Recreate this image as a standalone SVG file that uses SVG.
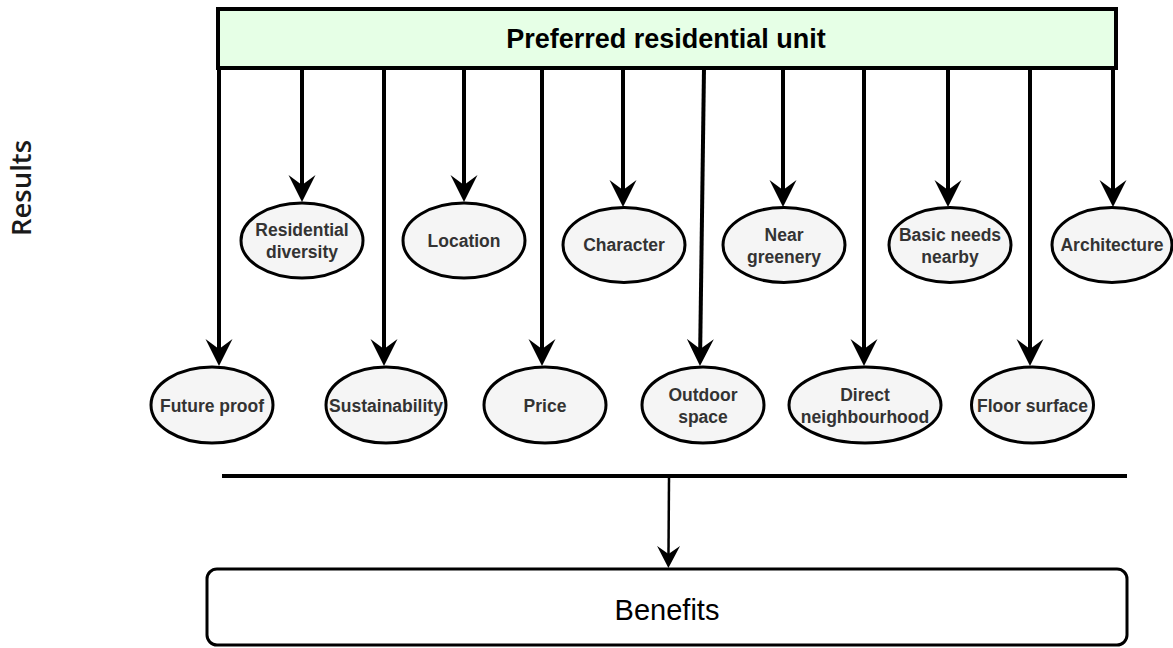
<svg xmlns="http://www.w3.org/2000/svg" width="1173" height="648" viewBox="0 0 1173 648">
  <style>
    .bg { fill: #ffffff; }
    .head { fill: #e6ffe6; stroke: #000; stroke-width: 4; }
    .head-text { font-family: "Liberation Sans", Arial, sans-serif; font-weight: bold; font-size: 27px; fill: #000; text-anchor: middle; }
    .node { fill: #f5f5f5; stroke: #000; stroke-width: 3; }
    .label { font-family: "Liberation Sans", Arial, sans-serif; font-weight: bold; font-size: 17.5px; fill: #333333; text-anchor: middle; }
    .link { fill: none; stroke: #000; stroke-width: 4; }
    .thin { fill: none; stroke: #000; stroke-width: 2.5; }
    .bar { fill: none; stroke: #000; stroke-width: 4; }
    .box { fill: #ffffff; stroke: #000; stroke-width: 3; }
    .box-text { font-family: "Liberation Sans", Arial, sans-serif; font-size: 29px; fill: #000; text-anchor: middle; }
    .side { font-family: "Open Sans", "Noto Sans", sans-serif; font-weight: 600; font-size: 27.5px; fill: #1a1a1a; text-anchor: middle; }
  </style>
  <defs>
    <marker id="arrow" markerUnits="userSpaceOnUse" viewBox="0 -14 28 28" refX="10" refY="0" markerWidth="28" markerHeight="28" orient="auto">
      <path d="M0,-13.5 L27,0 L0,13.5 L10,0 Z" fill="#000"/>
    </marker>
    <marker id="arrow-small" markerUnits="userSpaceOnUse" viewBox="0 -12 24 24" refX="8" refY="0" markerWidth="24" markerHeight="24" orient="auto">
      <path d="M0,-11.5 L22,0 L0,11.5 L8,0 Z" fill="#000"/>
    </marker>
  </defs>

  <rect class="bg" x="0" y="0" width="1173" height="648"/>

  <text class="side" transform="translate(31,188) rotate(-90)">Results</text>

  <g id="preferred-unit">
    <rect class="head" x="218" y="9" width="898" height="59"/>
    <text class="head-text" x="666" y="47.5">Preferred residential unit</text>
  </g>

  <g id="connectors">
    <line class="link" x1="219" y1="68" x2="219" y2="349" marker-end="url(#arrow)"/>
    <line class="link" x1="302" y1="68" x2="302" y2="185" marker-end="url(#arrow)"/>
    <line class="link" x1="384" y1="68" x2="384" y2="349" marker-end="url(#arrow)"/>
    <line class="link" x1="464" y1="68" x2="464" y2="185" marker-end="url(#arrow)"/>
    <line class="link" x1="542" y1="68" x2="542" y2="349" marker-end="url(#arrow)"/>
    <line class="link" x1="623" y1="68" x2="623" y2="190" marker-end="url(#arrow)"/>
    <line class="link" x1="704" y1="68" x2="700.2" y2="349" marker-end="url(#arrow)"/>
    <line class="link" x1="783" y1="68" x2="783" y2="190" marker-end="url(#arrow)"/>
    <line class="link" x1="864" y1="68" x2="864" y2="349" marker-end="url(#arrow)"/>
    <line class="link" x1="948" y1="68" x2="948" y2="190" marker-end="url(#arrow)"/>
    <line class="link" x1="1030" y1="68" x2="1030" y2="349" marker-end="url(#arrow)"/>
    <line class="link" x1="1113" y1="68" x2="1113" y2="190" marker-end="url(#arrow)"/>
    <line class="bar" x1="222" y1="476" x2="1127" y2="476"/>
    <line class="thin" x1="669" y1="478" x2="668.5" y2="554" marker-end="url(#arrow-small)"/>
  </g>

  <g id="residential-diversity">
    <ellipse class="node" cx="302" cy="240.5" rx="61" ry="37.5"/>
    <text class="label" x="302" y="236">Residential</text>
    <text class="label" x="302" y="258">diversity</text>
  </g>
  <g id="location">
    <ellipse class="node" cx="464" cy="240.5" rx="61" ry="37.5"/>
    <text class="label" x="464" y="246.5">Location</text>
  </g>
  <g id="character">
    <ellipse class="node" cx="624" cy="245" rx="61" ry="37.5"/>
    <text class="label" x="624" y="251">Character</text>
  </g>
  <g id="near-greenery">
    <ellipse class="node" cx="784" cy="245" rx="61" ry="37.5"/>
    <text class="label" x="784" y="241">Near</text>
    <text class="label" x="784" y="263">greenery</text>
  </g>
  <g id="basic-needs-nearby">
    <ellipse class="node" cx="950" cy="245" rx="61" ry="37.5"/>
    <text class="label" x="950" y="241">Basic needs</text>
    <text class="label" x="950" y="263">nearby</text>
  </g>
  <g id="architecture">
    <ellipse class="node" cx="1112" cy="245" rx="60" ry="37.5"/>
    <text class="label" x="1112" y="251">Architecture</text>
  </g>

  <g id="future-proof">
    <ellipse class="node" cx="212" cy="405" rx="61" ry="38"/>
    <text class="label" x="212" y="411.5">Future proof</text>
  </g>
  <g id="sustainability">
    <ellipse class="node" cx="386" cy="405" rx="60" ry="38"/>
    <text class="label" x="386" y="411.5">Sustainability</text>
  </g>
  <g id="price">
    <ellipse class="node" cx="545" cy="405" rx="61" ry="38"/>
    <text class="label" x="545" y="411.5">Price</text>
  </g>
  <g id="outdoor-space">
    <ellipse class="node" cx="703" cy="405" rx="61" ry="38"/>
    <text class="label" x="703" y="401">Outdoor</text>
    <text class="label" x="703" y="423">space</text>
  </g>
  <g id="direct-neighbourhood">
    <ellipse class="node" cx="865" cy="405" rx="76" ry="38"/>
    <text class="label" x="865" y="401">Direct</text>
    <text class="label" x="865" y="423">neighbourhood</text>
  </g>
  <g id="floor-surface">
    <ellipse class="node" cx="1032.5" cy="405" rx="61" ry="38"/>
    <text class="label" x="1032.5" y="411.5">Floor surface</text>
  </g>

  <g id="benefits">
    <rect class="box" x="207" y="569" width="920" height="76" rx="10" ry="10"/>
    <text class="box-text" x="667" y="620">Benefits</text>
  </g>
</svg>
